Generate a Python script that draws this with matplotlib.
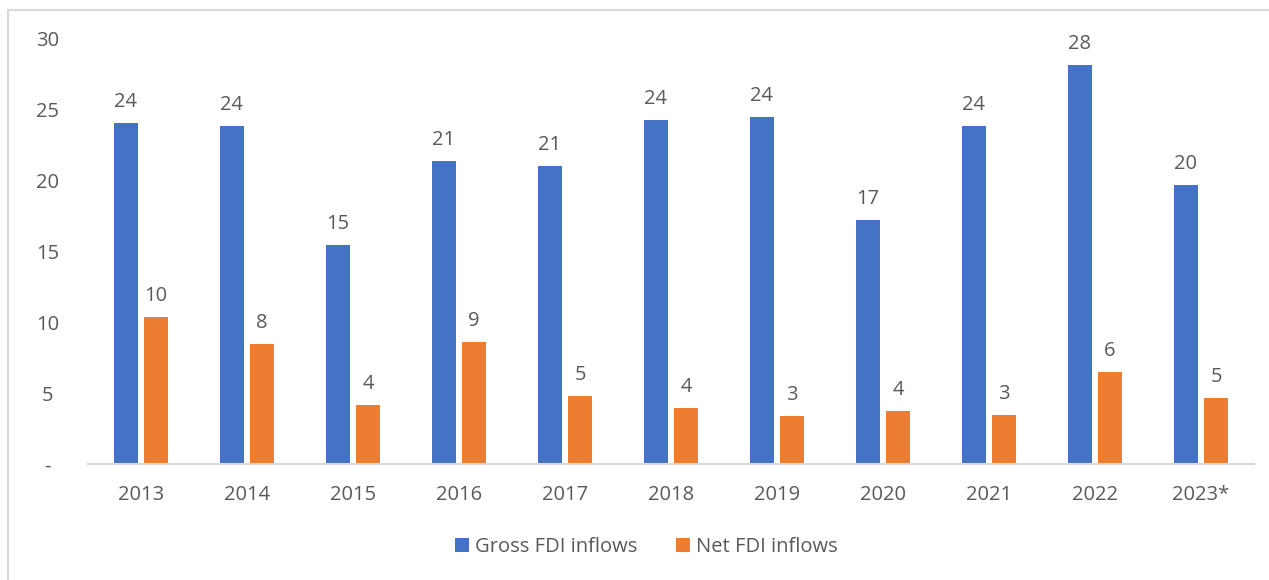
import matplotlib.pyplot as plt
import numpy as np
from matplotlib.patches import Rectangle

years = ['2013', '2014', '2015', '2016', '2017', '2018', '2019', '2020', '2021', '2022', '2023*']
gross = [24.07, 23.85, 15.45, 21.38, 21.03, 24.28, 24.49, 17.22, 23.85, 28.16, 19.69]
net = [10.37, 8.48, 4.16, 8.61, 4.80, 3.95, 3.39, 3.74, 3.46, 6.49, 4.66]
yticks = [0, 5, 10, 15, 20, 25, 30]
ytick_labels = ['-', '5', '10', '15', '20', '25', '30']

plt.rcParams['font.family'] = ['Open Sans', 'DejaVu Sans']
txt = '#595959'
blue = '#4472C4'
orange = '#ED7D31'
fs = 14.5

fig = plt.figure(figsize=(12.69, 5.80), dpi=100)
fig.patches.append(Rectangle((8 / 1269, -0.1), 1.2, 1 - 10 / 580 + 0.1, transform=fig.transFigure,
                             fill=False, edgecolor='#D9D9D9', linewidth=1.5))
ax = fig.add_axes([88 / 1269, 1 - 464 / 580, (1254 - 88) / 1269, (464 - 39) / 580])

x = np.arange(len(years))
w = 0.226
off = 0.142
b1 = ax.bar(x - off, gross, w, color=blue, label='Gross FDI inflows')
b2 = ax.bar(x + off, net, w, color=orange, label='Net FDI inflows')

for bars, vals in [(b1, gross), (b2, net)]:
    for r, v in zip(bars, vals):
        ax.annotate(f'{v:.0f}', (r.get_x() + r.get_width() / 2, v), xytext=(0, 8),
                    textcoords='offset points', ha='center', va='bottom', fontsize=fs, color=txt)

ax.set_xlim(-0.5, len(years) - 0.5)
ax.set_ylim(0, 30)
ax.set_yticks(yticks)
ax.set_yticklabels(ytick_labels)
ax.set_xticks(x)
ax.set_xticklabels(years)
for s in ['top', 'right', 'left']:
    ax.spines[s].set_visible(False)
ax.spines['bottom'].set_color('#D9D9D9')
ax.spines['bottom'].set_linewidth(1.5)
ax.tick_params(axis='both', length=0, labelsize=fs, colors=txt)
ax.tick_params(axis='y', pad=29)
ax.tick_params(axis='x', pad=15)
for lab in ax.get_yticklabels():
    lab.set_horizontalalignment('center')

ax.legend(loc='center', bbox_to_anchor=(0.479, -0.195), ncol=2, frameon=False, fontsize=fs,
          labelcolor=txt, handlelength=0.7, handleheight=0.7, handletextpad=0.3, columnspacing=1.9)

fig.savefig('out.png', dpi=100)
